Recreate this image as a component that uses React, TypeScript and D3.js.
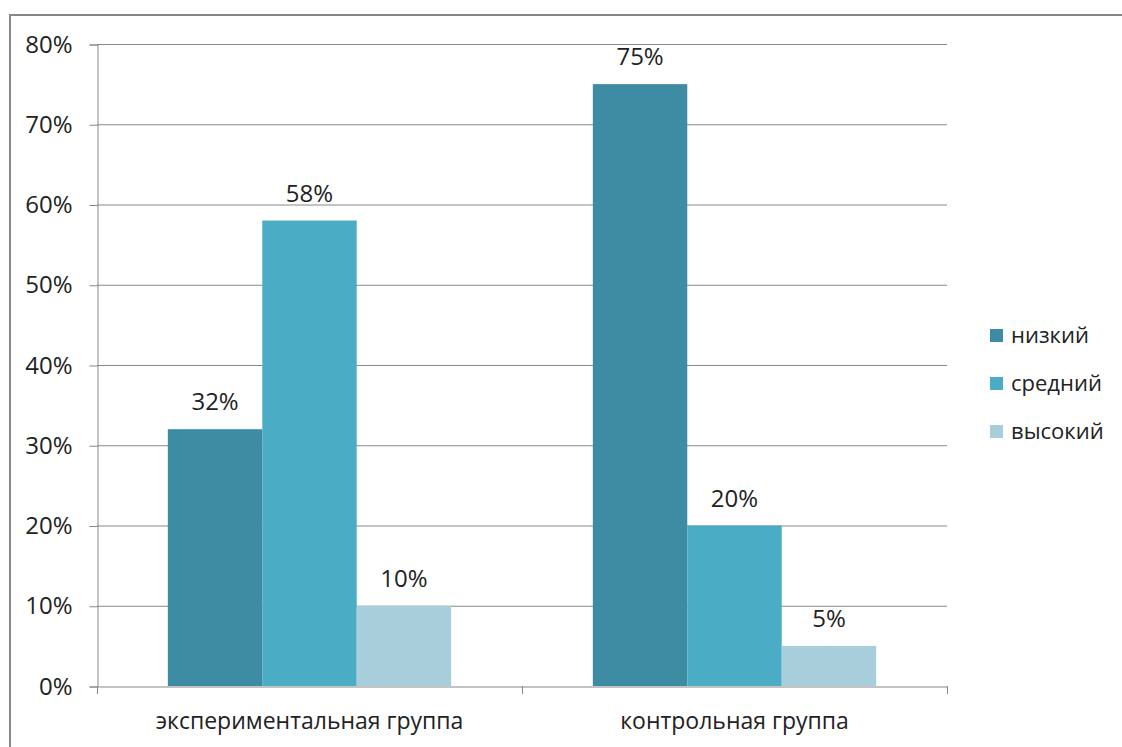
import { useEffect, useRef } from "react";
import * as d3 from "d3";

const categories = ["экспериментальная группа", "контрольная группа"];
const seriesNames = ["низкий", "средний", "высокий"];
const seriesColors = ["#3D8CA3", "#4BACC6", "#A8CEDC"];
// values per series, in category order (percent)
const nizkiy = [32, 75];
const sredniy = [58, 20];
const vysokiy = [10, 5];
const yTicks = [0, 10, 20, 30, 40, 50, 60, 70, 80];

const W = 1122;
const H = 747;
const FONT = "'Open Sans', 'Noto Sans', sans-serif";

export default function App() {
  const ref = useRef<SVGSVGElement>(null);

  useEffect(() => {
    const svg = d3.select(ref.current);
    svg.selectAll("*").remove();

    const left = 97;
    const right = 947;
    const top = 44;
    const bottom = 686;

    // outer frame
    svg
      .append("rect")
      .attr("x", 10)
      .attr("y", 15)
      .attr("width", W + 20)
      .attr("height", H + 20)
      .attr("fill", "white")
      .attr("stroke", "#878787")
      .attr("stroke-width", 2);

    const y = d3.scaleLinear().domain([0, 80]).range([bottom, top]);
    const x0 = d3.scaleBand().domain(categories).range([left, right]);
    const x1 = d3
      .scaleBand()
      .domain(seriesNames)
      .range([0, x0.bandwidth()])
      .paddingOuter(0.75);

    const values = [nizkiy, sredniy, vysokiy];

    // gridlines
    svg
      .append("g")
      .selectAll("line")
      .data(yTicks.filter((t) => t > 0))
      .join("line")
      .attr("x1", left)
      .attr("x2", right)
      .attr("y1", (d) => y(d) + 0.5)
      .attr("y2", (d) => y(d) + 0.5)
      .attr("stroke", "#888888")
      .attr("stroke-width", 1);

    // bars
    seriesNames.forEach((s, si) => {
      const g = svg.append("g");
      g.selectAll("rect")
        .data(categories)
        .join("rect")
        .attr("x", (c) => (x0(c) as number) + (x1(s) as number))
        .attr("width", x1.bandwidth())
        .attr("y", (c, ci) => y(values[si][ci]))
        .attr("height", (c, ci) => bottom - y(values[si][ci]))
        .attr("fill", seriesColors[si]);
      g.selectAll("text")
        .data(categories)
        .join("text")
        .attr("x", (c) => (x0(c) as number) + (x1(s) as number) + x1.bandwidth() / 2)
        .attr("y", (c, ci) => y(values[si][ci]) - 19)
        .attr("text-anchor", "middle")
        .attr("font-family", FONT)
        .attr("font-size", 24)
        .attr("fill", "#222")
        .text((c, ci) => `${values[si][ci]}%`);
    });

    // y axis
    const yAxis = svg
      .append("g")
      .attr("transform", `translate(${left + 0.5},0.5)`)
      .call(
        d3
          .axisLeft(y)
          .tickValues(yTicks)
          .tickSize(8)
          .tickPadding(17)
          .tickFormat((d) => `${d}%`)
      );
    yAxis.select(".domain").attr("stroke", "#888888");
    yAxis.selectAll(".tick line").attr("stroke", "#888888");
    yAxis
      .selectAll(".tick text")
      .attr("font-family", FONT)
      .attr("font-size", 24)
      .attr("fill", "#222");

    // x axis
    const xAxis = svg
      .append("g")
      .attr("transform", `translate(0,${bottom + 0.5})`)
      .call(d3.axisBottom(x0).tickSize(0).tickPadding(26));
    xAxis.select(".domain").attr("stroke", "#888888");
    xAxis
      .selectAll(".tick text")
      .attr("font-family", FONT)
      .attr("font-size", 23)
      .attr("fill", "#222");
    // category separator ticks
    svg
      .append("g")
      .selectAll("line")
      .data([left, x0(categories[1]) as number, right])
      .join("line")
      .attr("x1", (d) => d + 0.5)
      .attr("x2", (d) => d + 0.5)
      .attr("y1", bottom)
      .attr("y2", bottom + 8)
      .attr("stroke", "#888888");

    // legend
    const lg = svg
      .append("g")
      .selectAll("g")
      .data(seriesNames)
      .join("g")
      .attr("transform", (d, i) => `translate(990,${329 + i * 48})`);
    lg.append("rect")
      .attr("width", 13)
      .attr("height", 13)
      .attr("fill", (d, i) => seriesColors[i]);
    lg.append("text")
      .attr("x", 21)
      .attr("y", 14)
      .attr("font-family", FONT)
      .attr("font-size", 22)
      .attr("fill", "#222")
      .text((d) => d);
  }, []);

  return (
    <svg
      ref={ref}
      width={W}
      height={H}
      style={{ position: "absolute", left: 0, top: 0, background: "white" }}
    />
  );
}
